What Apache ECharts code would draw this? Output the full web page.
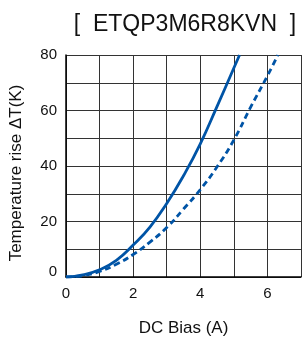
<!DOCTYPE html>
<html>
<head>
<meta charset="utf-8">
<script src="https://cdn.jsdelivr.net/npm/echarts@6/dist/echarts.min.js"></script>
<style>
  html, body { margin: 0; padding: 0; background: #fff; }
  #chart { width: 304px; height: 342px; }
</style>
</head>
<body>
<div id="chart"></div>
<script>
// DC bias (A) vs temperature rise (K)
const solidX = [0, 0.5, 1, 1.5, 2, 2.5, 3, 3.5, 4, 4.5, 5, 5.17];
const solidY = [0, 0.8, 2.6, 6, 11.5, 18, 26.5, 36.5, 48, 61.5, 75.3, 80];
const dashX = [0, 0.5, 1, 1.5, 2, 2.5, 3, 3.5, 4, 4.5, 5, 5.5, 6, 6.31];
const dashY = [0, 0.5, 2, 4.6, 8.1, 12.6, 17.8, 24.5, 31.5, 39.7, 49.4, 61.2, 72.5, 80];
const xTicks = [0, 2, 4, 6];
const yTicks = [0, 20, 40, 60, 80];

const lineColor = '#0054a6';
const font = 'Arial, "Liberation Sans", sans-serif';

let chart = echarts.init(document.getElementById('chart'));
let option = {
  animation: false,
  title: {
    text: '[  ETQP3M6R8KVN  ]',
    left: 180,
    top: 8,
    textAlign: 'center',
    textStyle: { fontFamily: font, fontSize: 23, fontWeight: 'normal', color: '#111' }
  },
  grid: { left: 63, right: -1, top: 55, bottom: 61 },
  xAxis: {
    type: 'value',
    min: 0, max: 7, interval: 1,
    name: 'DC Bias (A)',
    nameLocation: 'middle',
    nameGap: 43,
    nameTextStyle: { fontFamily: font, fontSize: 17, color: '#111' },
    axisLine: { lineStyle: { color: '#000', width: 1.5 } },
    axisTick: { show: false },
    axisLabel: {
      margin: 9,
      fontFamily: font, fontSize: 15, color: '#111',
      formatter: v => xTicks.includes(v) ? String(v) : ''
    },
    splitLine: { lineStyle: { color: '#333', width: 1 } }
  },
  yAxis: {
    type: 'value',
    min: 0, max: 80, interval: 10,
    name: 'Temperature rise ΔT(K)',
    nameLocation: 'middle',
    nameGap: 41,
    nameTextStyle: { fontFamily: font, fontSize: 17, color: '#111', padding: [0, 14, 0, 0] },
    axisLine: { show: true, lineStyle: { color: '#000', width: 1.5 } },
    axisTick: { show: false },
    axisLabel: {
      margin: 9,
      fontFamily: font, fontSize: 15, color: '#111',
      formatter: v => {
        if (!yTicks.includes(v)) return '';
        return v === 0 ? '{z|0}' : String(v);
      },
      rich: { z: { fontFamily: font, fontSize: 15, color: '#111', padding: [0, 0, 10, 0] } }
    },
    splitLine: { lineStyle: { color: '#333', width: 1 } }
  },
  series: [
    {
      type: 'line',
      data: solidX.map((x, i) => [x, solidY[i]]),
      smooth: 0.5,
      symbol: 'none',
      lineStyle: { color: lineColor, width: 2.8 }
    },
    {
      type: 'line',
      data: dashX.map((x, i) => [x, dashY[i]]),
      smooth: 0.5,
      symbol: 'none',
      lineStyle: { color: lineColor, width: 2.8, type: [6, 4] }
    }
  ]
};
chart.setOption(option);
</script>
</body>
</html>
